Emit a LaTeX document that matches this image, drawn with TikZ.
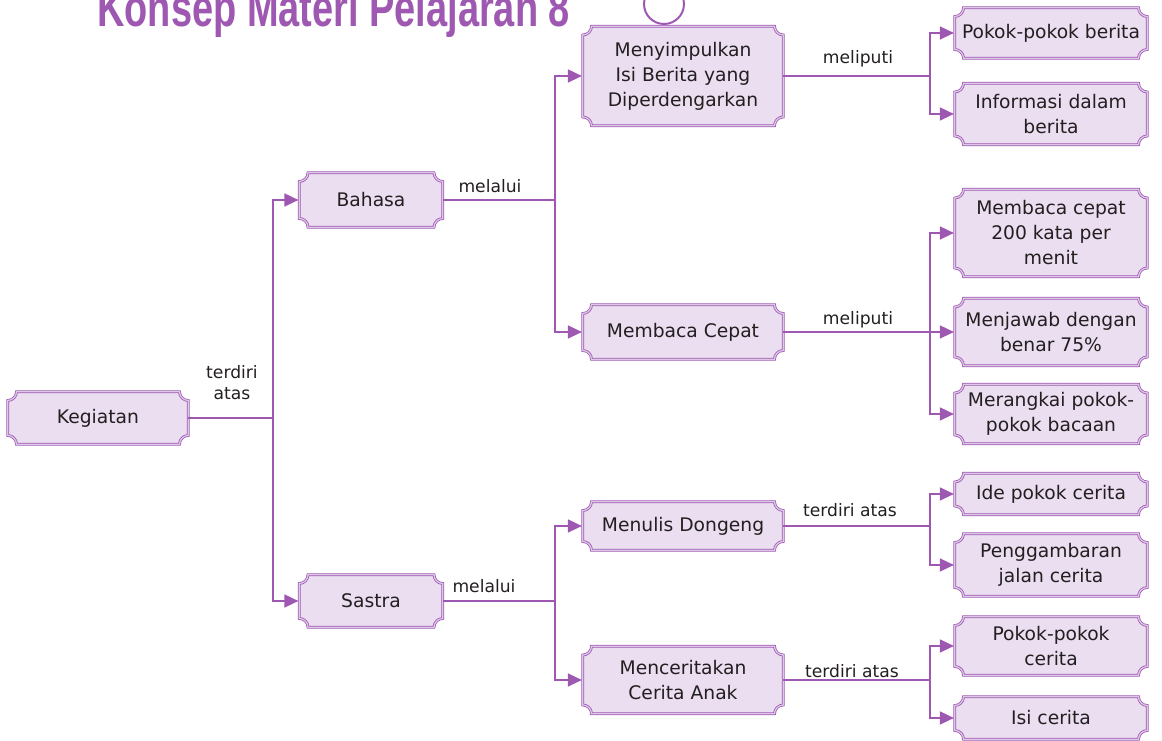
\documentclass[tikz,border=0pt]{standalone}
\usepackage{fontspec}
\setmainfont{DejaVu Sans}
\newfontfamily\titlefont{Liberation Sans}
\usetikzlibrary{arrows.meta,backgrounds}

\definecolor{linec}{RGB}{158,88,178}
\definecolor{dblc}{RGB}{222,200,232}
\definecolor{boxc}{RGB}{234,222,240}
\definecolor{txtc}{RGB}{35,31,32}

\begin{document}
\begin{tikzpicture}[x=0.025cm,y=0.025cm,shorten >=0.5pt,-]
                \tikzstyle{kotak}=[inner sep=0pt,align=center,text=txtc,font=\fontsize{13.3}{17.8}\selectfont]
                \tikzstyle{frame}=[draw=linec,line width=0.55pt,double=dblc,double distance=0.9pt,fill=boxc]
                \tikzstyle{ket}=[align=center,text=txtc,font=\fontsize{12.2}{15}\selectfont]
                \tikzstyle{garis}=[draw=linec,line width=1.8pt]
                \useasboundingbox (0,0) rectangle (1162,741);
                        \node[anchor=base west,inner sep=0pt,text=linec,font=\titlefont\fontsize{27}{30}\bfseries\selectfont] (T) at (97,714) {\scalebox{1}[1.4]{Konsep Materi Pelajaran 8}};
                        \draw[linec,line width=1.4pt] (664,737) circle [radius=20];

                        \node[kotak,minimum width=4.5cm,minimum height=1.3cm] (N-0) at (98, 323){Kegiatan};
                        \node[kotak,minimum width=3.575cm,minimum height=1.35cm] (N-1) at (371, 541){Bahasa};
                        \node[kotak,minimum width=3.575cm,minimum height=1.3cm] (N-2) at (371, 140){Sastra};
                        \node[kotak,minimum width=5cm,minimum height=2.475cm] (N-3) at (683, 665){Menyimpulkan\\Isi Berita yang\\Diperdengarkan};
                        \node[kotak,minimum width=5cm,minimum height=1.35cm] (N-4) at (683, 409){Membaca Cepat};
                        \node[kotak,minimum width=5cm,minimum height=1.2cm] (N-5) at (683, 215){Menulis Dongeng};
                        \node[kotak,minimum width=5cm,minimum height=1.675cm] (N-6) at (683, 61){Menceritakan\\Cerita Anak};
                        \node[kotak,minimum width=4.8cm,minimum height=1.25cm] (N-7) at (1051, 708){Pokok-pokok berita};
                        \node[kotak,minimum width=4.8cm,minimum height=1.525cm] (N-8) at (1051, 627){Informasi dalam\\berita};
                        \node[kotak,minimum width=4.8cm,minimum height=2.175cm] (N-9) at (1051, 508){Membaca cepat\\200 kata per\\menit};
                        \node[kotak,minimum width=4.8cm,minimum height=1.675cm] (N-10) at (1051, 409){Menjawab dengan\\benar 75\%};
                        \node[kotak,minimum width=4.8cm,minimum height=1.475cm] (N-11) at (1051, 327){Merangkai pokok-\\pokok bacaan};
                        \node[kotak,minimum width=4.8cm,minimum height=1.025cm] (N-12) at (1051, 247){Ide pokok cerita};
                        \node[kotak,minimum width=4.8cm,minimum height=1.55cm] (N-13) at (1051, 176){Penggambaran\\jalan cerita};
                        \node[kotak,minimum width=4.8cm,minimum height=1.45cm] (N-14) at (1051, 95){Pokok-pokok\\cerita};
                        \node[kotak,minimum width=4.8cm,minimum height=1.05cm] (N-15) at (1051, 23){Isi cerita};

                        \coordinate (J-0) at (273, 323);
                        \coordinate (J-1) at (555, 541);
                        \coordinate (J-2) at (555, 140);
                        \coordinate (J-3) at (930, 665);
                        \coordinate (J-4) at (930, 409);
                        \coordinate (J-5) at (930, 215);
                        \coordinate (J-6) at (930, 61);

                        \node[ket] (L-0) at (232, 358){terdiri\\atas};
                        \node[ket] (L-1) at (490, 555){melalui};
                        \node[ket] (L-2) at (484, 155){melalui};
                        \node[ket] (L-3) at (858, 682){meliputi};
                        \node[ket] (L-4) at (858, 421){meliputi};
                        \node[ket] (L-5) at (850, 231){terdiri atas};
                        \node[ket] (L-6) at (852, 70){terdiri atas};

                \begin{scope}[on background layer]
                    \foreach \n in {0,...,15}
                        \draw[frame] ([xshift=0.22cm]N-\n.north west) -- ([xshift=-0.22cm]N-\n.north east)
                            arc[start angle=180,end angle=270,radius=0.22cm] -- ([yshift=0.22cm]N-\n.south east)
                            arc[start angle=90,end angle=180,radius=0.22cm] -- ([xshift=0.22cm]N-\n.south west)
                            arc[start angle=0,end angle=90,radius=0.22cm] -- ([yshift=-0.22cm]N-\n.north west)
                            arc[start angle=270,end angle=360,radius=0.22cm] -- cycle;
                \end{scope}

                    \foreach \from in {0,...,6}
                        \draw[garis] (N-\from.east) -- (J-\from);
                    \foreach \j/\to in {0/1, 0/2, 1/3, 1/4, 2/5, 2/6, 3/7, 3/8, 4/9, 4/10, 4/11, 5/12, 5/13, 6/14, 6/15}
                        \draw[garis,-{Triangle[length=10pt,width=9pt]}] (J-\j) |- (N-\to.west);
            \end{tikzpicture}
\end{document}
